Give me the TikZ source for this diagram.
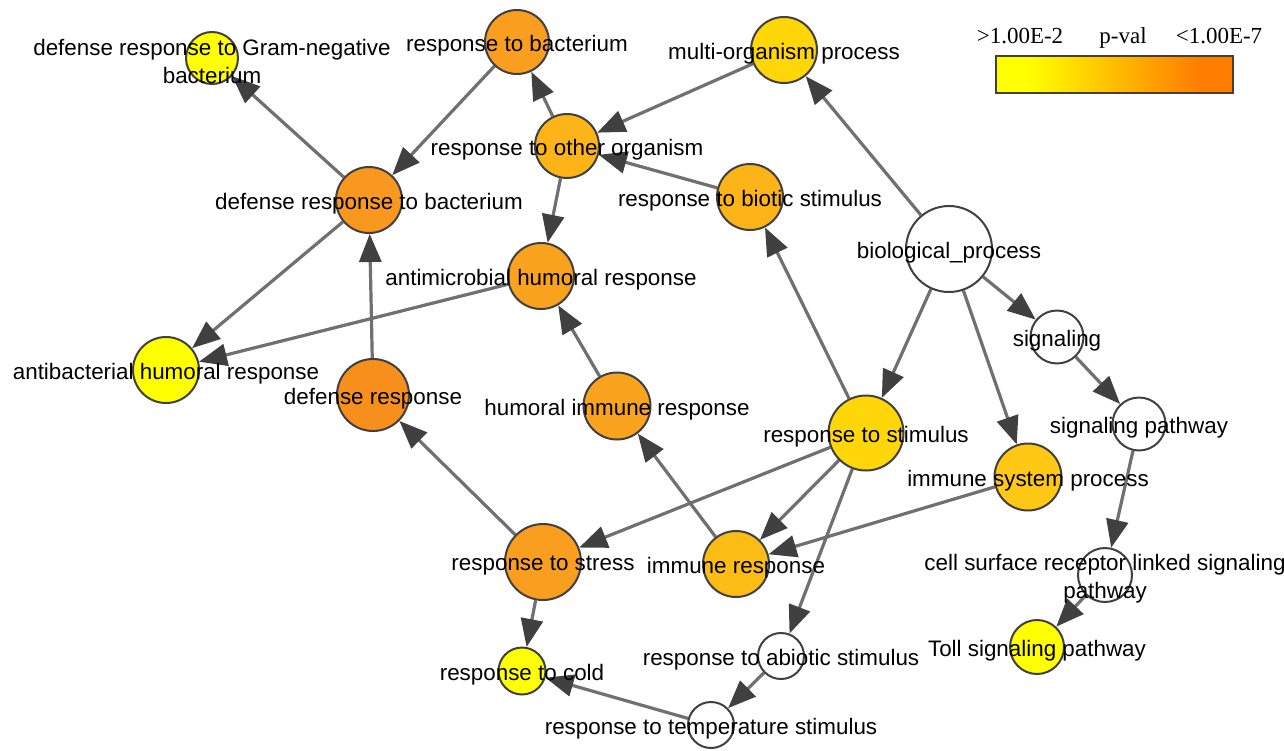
\documentclass[tikz,border=0pt]{standalone}
\usepackage{fontspec}
\setmainfont{Liberation Sans}
\newfontfamily\legfont{Liberation Serif}
\usetikzlibrary{arrows.meta}
\pgfdeclarelayer{bg}
\pgfdeclarelayer{edges}
\pgfsetlayers{bg,edges,main}
\definecolor{edgec}{HTML}{707070}
\definecolor{arrowc}{HTML}{404040}
\definecolor{borderc}{HTML}{404040}
\definecolor{cyel}{RGB}{255,255,0}
\definecolor{cgold}{RGB}{255,214,8}
\definecolor{cimsys}{RGB}{255,200,20}
\definecolor{cimresp}{RGB}{252,188,22}
\definecolor{cother}{RGB}{252,180,25}
\definecolor{cmid}{RGB}{250,163,30}
\definecolor{crbac}{RGB}{249,158,30}
\definecolor{cdrbac}{RGB}{249,152,30}
\definecolor{cdresp}{RGB}{247,143,29}
\definecolor{legorange}{RGB}{255,125,0}
\definecolor{legmid}{RGB}{255,188,0}
\pgfdeclarehorizontalshading{pval}{100bp}{color(0bp)=(cyel); color(32bp)=(cyel); color(50bp)=(legmid); color(68bp)=(legorange); color(100bp)=(legorange)}
\tikzset{
  go/.style={circle, draw=borderc, line width=2pt, inner sep=0pt, minimum size=#1},
  lbl/.style={font=\fontsize{22.4}{28}\selectfont, text=black, inner sep=0pt, align=center, yshift=-3.5pt},
  edge/.style={draw=edgec, line width=3.2pt, -{Triangle[length=28pt,width=22pt,color=arrowc]}},
  legtxt/.style={font=\legfont\fontsize{23}{26}\selectfont, inner sep=0pt, anchor=base}
}
\begin{document}
\begin{tikzpicture}[x=1pt,y=-1pt]
\useasboundingbox (0,0) rectangle (1284,750);
\begin{pgfonlayer}{bg}
\fill[white] (0,0) rectangle (1284,750);
\end{pgfonlayer}
% nodes
\node[go=52, fill=cyel]    (dgram)   at (212,58)  {};
\node[go=64, fill=crbac]   (rbac)    at (517,42)  {};
\node[go=66, fill=cgold]   (multi)   at (784,50)  {};
\node[go=64, fill=cother]  (other)   at (567,146) {};
\node[go=66, fill=cother]  (biotic)  at (750,197) {};
\node[go=66, fill=cdrbac]  (drbac)   at (369,200) {};
\node[go=86, fill=white]   (bio)     at (949,249) {};
\node[go=66, fill=cmid]    (antimic) at (541,276) {};
\node[go=66, fill=cyel]    (antibac) at (166,370) {};
\node[go=53, fill=white]   (sig)     at (1057,337) {};
\node[go=72, fill=cdresp]  (dresp)   at (373,395) {};
\node[go=67, fill=cmid]    (humoral) at (617,406) {};
\node[go=75, fill=cgold]   (stim)    at (866,433) {};
\node[go=53, fill=white]   (sigpath) at (1139,424) {};
\node[go=67, fill=cimsys]  (imsys)   at (1028,477) {};
\node[go=76, fill=crbac]   (stress)  at (543,562) {};
\node[go=66, fill=cimresp] (imresp)  at (736,564) {};
\node[go=54, fill=white]   (cell)    at (1105,575) {};
\node[go=47, fill=cyel]    (cold)    at (522,671) {};
\node[go=46, fill=white]   (abiotic) at (781,656) {};
\node[go=54, fill=cyel]    (toll)    at (1037,647) {};
\node[go=46, fill=white]   (temp)    at (711,725) {};
% edges
\begin{pgfonlayer}{edges}
\draw[edge] (drbac) -- (dgram);
\draw[edge] (rbac) -- (drbac);
\draw[edge] (other) -- (rbac);
\draw[edge] (multi) -- (other);
\draw[edge] (biotic) -- (other);
\draw[edge] (other) -- (antimic);
\draw[edge] (drbac) -- (antibac);
\draw[edge] (antimic) -- (antibac);
\draw[edge] (dresp) -- (drbac);
\draw[edge] (humoral) -- (antimic);
\draw[edge] (bio) -- (multi);
\draw[edge] (stim) -- (biotic);
\draw[edge] (bio) -- (stim);
\draw[edge] (bio) -- (imsys);
\draw[edge] (bio) -- (sig);
\draw[edge] (sig) -- (sigpath);
\draw[edge] (sigpath) -- (cell);
\draw[edge] (cell) -- (toll);
\draw[edge] (stress) -- (dresp);
\draw[edge] (stim) -- (stress);
\draw[edge] (stim) -- (imresp);
\draw[edge] (imsys) -- (imresp);
\draw[edge] (imresp) -- (humoral);
\draw[edge] (stim) -- (abiotic);
\draw[edge] (abiotic) -- (temp);
\draw[edge] (temp) -- (cold);
\draw[edge] (stress) -- (cold);
\end{pgfonlayer}
% labels
\node[lbl] (ldgram) at (dgram) {defense response to Gram-negative\\bacterium};
\node[lbl] (lrbac) at (rbac) {response to bacterium};
\node[lbl] (lmulti) at (multi) {multi-organism process};
\node[lbl] (lother) at (other) {response to other organism};
\node[lbl] (lbiotic) at (biotic) {response to biotic stimulus};
\node[lbl] (ldrbac) at (drbac) {defense response to bacterium};
\node[lbl] (lbio) at (bio) {biological\_process};
\node[lbl] (lantimic) at (antimic) {antimicrobial humoral response};
\node[lbl] (lantibac) at (antibac) {antibacterial humoral response};
\node[lbl] (lsig) at (sig) {signaling};
\node[lbl] (ldresp) at (dresp) {defense response};
\node[lbl] (lhumoral) at (humoral) {humoral immune response};
\node[lbl] (lstim) at (stim) {response to stimulus};
\node[lbl] (lsigpath) at (sigpath) {signaling pathway};
\node[lbl] (limsys) at (imsys) {immune system process};
\node[lbl] (lstress) at (stress) {response to stress};
\node[lbl] (limresp) at (imresp) {immune response};
\node[lbl] (lcell) at (cell) {cell surface receptor linked signaling\\pathway};
\node[lbl] (lcold) at (cold) {response to cold};
\node[lbl] (labiotic) at (abiotic) {response to abiotic stimulus};
\node[lbl] (ltoll) at (toll) {Toll signaling pathway};
\node[lbl] (ltemp) at (temp) {response to temperature stimulus};
% legend
\shadedraw[shading=pval, draw=borderc, line width=1.2pt] (996,56) rectangle (1233,93);
\node[legtxt] (lg1) at (1020,43) {>1.00E-2};
\node[legtxt] (lg2) at (1123,43) {p-val};
\node[legtxt] (lg3) at (1219,43) {<1.00E-7};
\end{tikzpicture}
\end{document}
